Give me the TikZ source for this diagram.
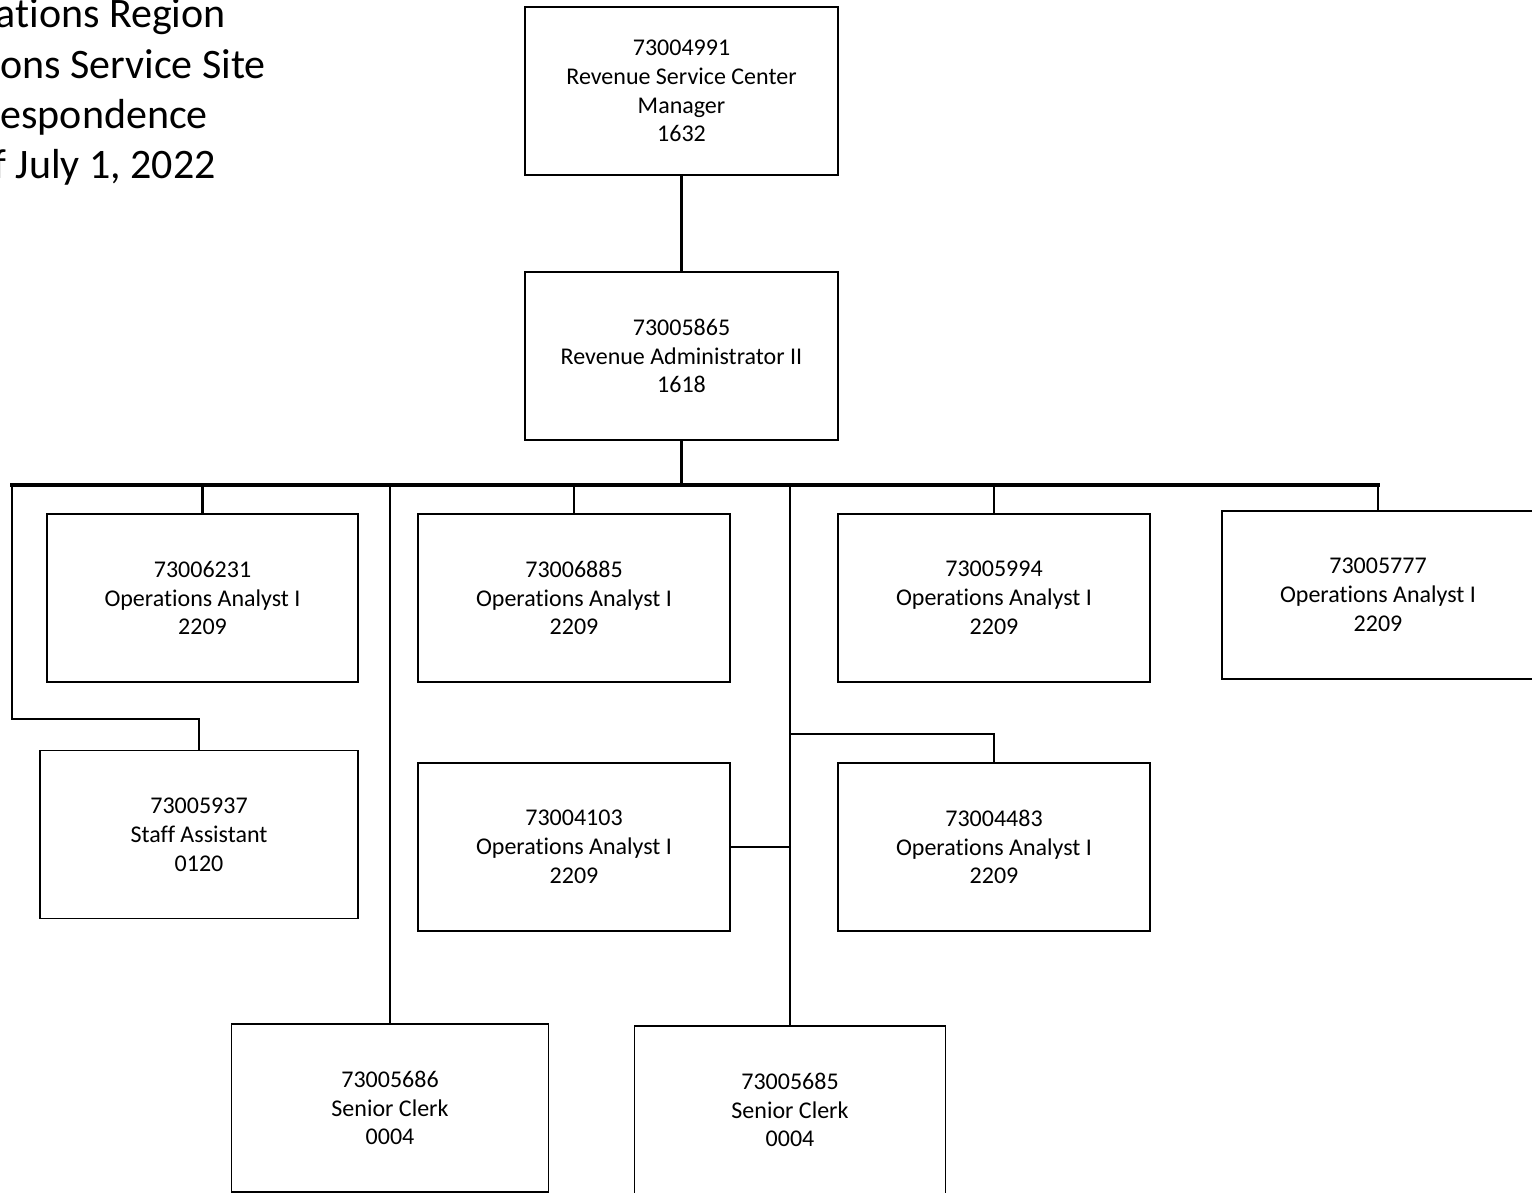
\documentclass[tikz,border=0pt]{standalone}
\usepackage{fontspec}
\setmainfont{Carlito}[Ligatures=NoCommon]
\begin{document}
\begin{tikzpicture}[x=1pt,y=-1pt,
  posbox/.style={draw=black,line width=1.8pt,minimum width=313pt,minimum height=168pt,
    inner sep=0pt,align=center,font=\fontsize{24}{28.8}\selectfont},
  link/.style={draw=black,line width=2.3pt},
  trunk/.style={draw=black,line width=3.6pt},
  title/.style={anchor=base east,inner sep=0pt,font=\fontsize{42}{50}\selectfont}]
\useasboundingbox (0,0) rectangle (1532,1192);
\clip (0,0) rectangle (1532,1192);
\fill[white] (0,0) rectangle (1532,1192);

% heading, left edge of the page
\node[title] (t1) at (226,27) {ations Region};
\node[title] (t2) at (266,78) {ons Service Site};
\node[title] (t3) at (208,128) {espondence};
\node[title] (t4) at (216,178) {f July 1, 2022};

% positions
\node[posbox] (mgr) at (681.5,91) {73004991\\Revenue Service Center\\Manager\\1632};
\node[posbox] (adm) at (681.5,356) {73005865\\Revenue Administrator II\\1618};

\node[posbox,minimum width=311pt] (oa1) at (202.5,598) {73006231\\Operations Analyst I\\2209};
\node[posbox,minimum width=312pt] (oa2) at (574,598) {73006885\\Operations Analyst I\\2209};
\node[posbox,minimum width=312pt] (oa3) at (994,598) {73005994\\Operations Analyst I\\2209};
\node[posbox,minimum width=312pt] (oa4) at (1378,595) {73005777\\Operations Analyst I\\2209};

\node[posbox,minimum width=318pt] (sa) at (199,834.5) {73005937\\Staff Assistant\\0120};
\node[posbox,minimum width=312pt] (oa5) at (574,847) {73004103\\Operations Analyst I\\2209};
\node[posbox,minimum width=312pt] (oa6) at (994,847) {73004483\\Operations Analyst I\\2209};

\node[posbox,minimum width=317pt] (sc1) at (390,1108) {73005686\\Senior Clerk\\0004};
\node[posbox,minimum width=311pt] (sc2) at (790,1110) {73005685\\Senior Clerk\\0004};

% bus and bend points
\coordinate (busL) at (12,485);
\coordinate (busR) at (1378,485);
\coordinate (lbend) at (12,719);
\coordinate (rbend) at (790,734);

% connectors
\draw[link] (mgr.south) -- (adm.north);
\draw[trunk] (adm.south) -- (adm.south |- busL);
\draw[trunk,line cap=rect] (busL) -- (busR);
\draw[link] (oa1.north |- busL) -- (oa1.north);
\draw[link] (oa2.north |- busL) -- (oa2.north);
\draw[link] (oa3.north |- busL) -- (oa3.north);
\draw[link] (busR) -- (oa4.north);
\draw[link] (busL) -- (lbend) -| (sa.north);
\draw[link] (sc1.north |- busL) -- (sc1.north);
\draw[link] (sc2.north |- busL) -- (sc2.north);
\draw[link] (rbend) -| (oa6.north);
\draw[link] (oa5.east) -- (oa5.east -| sc2.north);
\end{tikzpicture}
\end{document}
